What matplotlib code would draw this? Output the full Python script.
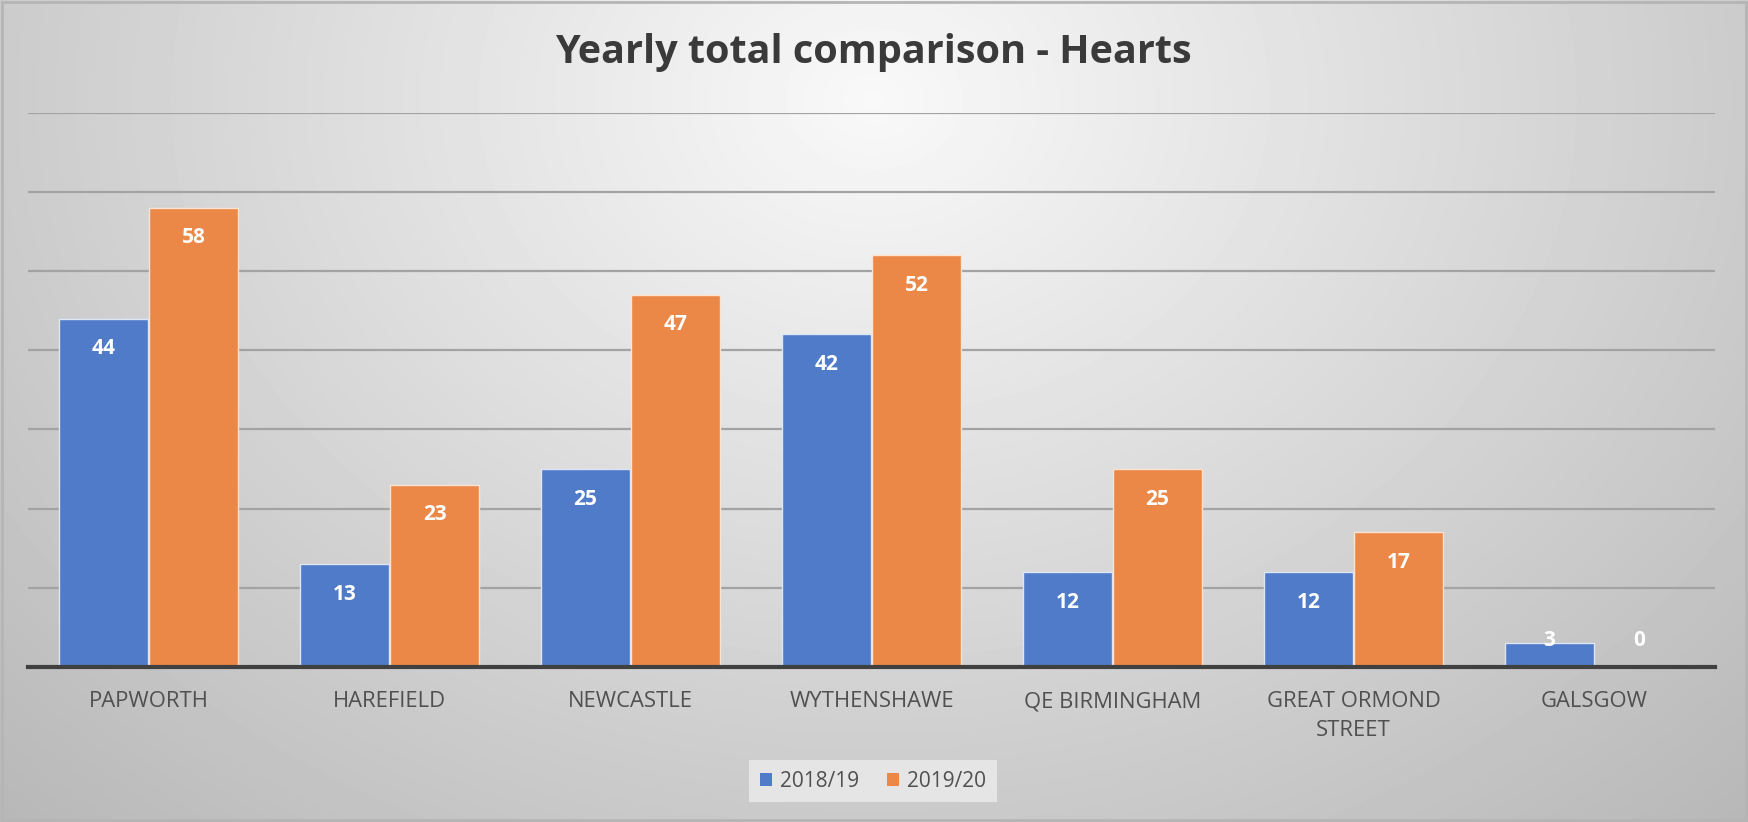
import numpy as np
import matplotlib
matplotlib.use("Agg")
import matplotlib.pyplot as plt
from matplotlib.patches import Rectangle

categories = ["PAPWORTH", "HAREFIELD", "NEWCASTLE", "WYTHENSHAWE",
              "QE BIRMINGHAM", "GREAT ORMOND\nSTREET", "GALSGOW"]
series_names = ["2018/19", "2019/20"]
values_1819 = [44, 13, 25, 42, 12, 12, 3]
values_1920 = [58, 23, 47, 52, 25, 17, 0]
title = "Yearly total comparison - Hearts"

colors = ["#4f7bc8", "#eb8847"]
FONT = ["Open Sans", "DejaVu Sans"]
plt.rcParams["font.family"] = FONT

W, H, DPI = 1748, 822, 100
fig = plt.figure(figsize=(W / DPI, H / DPI), dpi=DPI)

# background gradient
bg = fig.add_axes([0, 0, 1, 1], zorder=0)
xs = np.linspace(0, 1, 400)
ys = np.linspace(0, 1, 200)
X, Y = np.meshgrid(xs, ys)
d = np.sqrt(((X - 0.5) / 0.62) ** 2 + ((Y - 0.88) / 1.05) ** 2)
val = 0.975 - 0.22 * np.clip(d, 0, 1.2)
bg.imshow(val, cmap="gray", vmin=0, vmax=1, origin="lower",
          extent=[0, 1, 0, 1], aspect="auto", interpolation="bilinear")
bg.set_xlim(0, 1)
bg.set_ylim(0, 1)
bg.axis("off")
bg.add_patch(Rectangle((0.001, 0.003), 0.998, 0.995, fill=False,
                       edgecolor="#b5b5b5", lw=2, transform=bg.transAxes))

ax = fig.add_axes([28 / W, 1 - 667 / H, (1715 - 28) / W, (667 - 112.6) / H], zorder=1)
ax.set_facecolor("none")

x = np.arange(len(categories))
bw = 0.37
off = 0.187
b1 = ax.bar(x - off, values_1819, bw, color=colors[0], edgecolor="#dde6f5",
            linewidth=1, label=series_names[0], zorder=3)
b2 = ax.bar(x + off, values_1920, bw, color=colors[1], edgecolor="#fbe3d2",
            linewidth=1, label=series_names[1], zorder=3)

for vals, o in [(values_1819, -off), (values_1920, off)]:
    for i, v in enumerate(vals):
        yl = max(v - 3.8, 3.3)
        ax.text(i + o, yl, str(v), ha="center", va="center", color="white",
                fontsize=15, fontweight="bold", zorder=4)

ax.set_xlim(-0.5, len(categories) - 0.5)
ax.set_ylim(0, 70)
ax.set_yticks(np.arange(10, 71, 10))
ax.yaxis.grid(True, color="#a3a3a3", lw=1.6, zorder=1)
ax.set_axisbelow(True)
ax.tick_params(axis="y", left=False, labelleft=False)
ax.tick_params(axis="x", bottom=False, pad=14)
ax.set_xticks(x)
ax.set_xticklabels(categories, fontsize=15.8, color="#505050", linespacing=1.45)
for s in ["top", "right", "left"]:
    ax.spines[s].set_visible(False)
ax.spines["bottom"].set_color("#404040")
ax.spines["bottom"].set_linewidth(3)
ax.spines["bottom"].set_zorder(5)

fig.text(873 / W, 1 - 53 / H, title, ha="center", va="center",
         fontsize=28.5, fontweight="bold", color="#3a3a3a")

leg = fig.legend(handles=[b1, b2], labels=series_names, loc="center",
                 bbox_to_anchor=(873 / W, 1 - 781 / H), ncol=2, frameon=True,
                 fontsize=15, handlelength=0.6, handleheight=0.6,
                 handletextpad=0.4, columnspacing=1.3, borderpad=0.5,
                 labelcolor="#505050")
fr = leg.get_frame()
fr.set_facecolor("#ececec")
fr.set_edgecolor("none")
fr.set_alpha(0.8)
fr.set_boxstyle("square", pad=0)
for h in leg.legend_handles:
    h.set_edgecolor("none")

fig.savefig("out.png", dpi=DPI)
